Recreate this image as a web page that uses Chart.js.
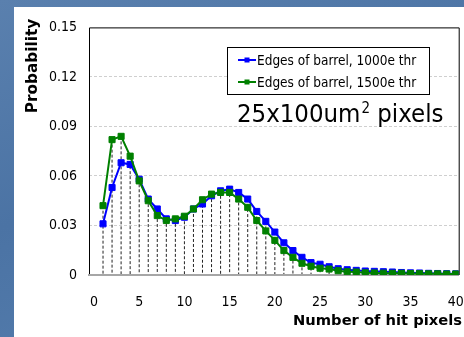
<!DOCTYPE html>
<html>
<head>
<meta charset="utf-8">
<script src="https://cdn.jsdelivr.net/npm/chart.js@4/dist/chart.umd.min.js"></script>
<style>
    html, body {
        margin: 0;
        padding: 0;
        width: 464px;
        height: 337px;
        overflow: hidden;
        background: linear-gradient(160deg, #5a80ae 0%, #4b73a4 45%, #5780b0 100%);
    }
    .panel {
        position: absolute;
        left: 14px;
        top: 7px;
        width: 450px;
        height: 330px;
        background: #fff;
    }
</style>
</head>
<body>
<div class="panel"><canvas id="histo" width="450" height="330"></canvas></div>
<script>
const HIT_PIXELS = [1, 2, 3, 4, 5, 6, 7, 8, 9, 10, 11, 12, 13, 14, 15, 16, 17, 18, 19, 20,
    21, 22, 23, 24, 25, 26, 27, 28, 29, 30, 31, 32, 33, 34, 35, 36, 37, 38, 39, 40];
const THR_1000 = [0.031, 0.053, 0.068, 0.067, 0.058, 0.046, 0.040, 0.034, 0.033, 0.035,
    0.040, 0.043, 0.048, 0.051, 0.052, 0.050, 0.046, 0.0385, 0.0325, 0.026,
    0.0195, 0.0148, 0.0107, 0.0075, 0.0065, 0.005, 0.0038, 0.0032, 0.0028, 0.0024,
    0.0022, 0.002, 0.0018, 0.0015, 0.0013, 0.0012, 0.001, 0.0009, 0.0008, 0.0007];
const THR_1500 = [0.042, 0.082, 0.084, 0.072, 0.057, 0.045, 0.036, 0.033, 0.034, 0.0356,
    0.040, 0.0456, 0.049, 0.050, 0.050, 0.046, 0.041, 0.033, 0.0267, 0.021,
    0.0148, 0.0107, 0.0071, 0.0053, 0.0041, 0.0036, 0.0026, 0.002, 0.0018, 0.0013,
    0.0012, 0.0011, 0.001, 0.001, 0.0009, 0.0008, 0.0007, 0.0007, 0.0006, 0.0006];
const SERIES_LABELS = ['Edges of barrel, 1000e thr', 'Edges of barrel, 1500e thr'];
const SERIES_COLORS = ['#0000ff', '#008000'];
const X_TICKS = [0, 5, 10, 15, 20, 25, 30, 35, 40];
const Y_TICKS = [0, 0.03, 0.06, 0.09, 0.12, 0.15];
const X_TITLE = 'Number of hit pixels';
const Y_TITLE = 'Probability';
const NOTE = ['25x100um', '2', ' pixels'];

const TICK_FONT = {family: "'DejaVu Sans Condensed', 'DejaVu Sans', sans-serif", size: 14};
const LABEL_FONT = "13.5px 'DejaVu Sans Condensed', 'DejaVu Sans', sans-serif";

const toPoints = values => HIT_PIXELS.map((x, i) => ({x, y: values[i]}));

const makeDataset = (idx, values, order) => ({
    label: SERIES_LABELS[idx],
    data: toPoints(values),
    borderColor: SERIES_COLORS[idx],
    backgroundColor: SERIES_COLORS[idx],
    borderWidth: 2,
    pointStyle: 'rect',
    pointRadius: 4.3,
    pointBorderWidth: 1,
    tension: 0,
    order
});

// dashed drop lines and the black frame
const dropLines = {
    id: 'dropLines',
    beforeDatasetsDraw(chart) {
        const {ctx, chartArea, scales: {x, y}} = chart;

        ctx.save();
        ctx.strokeStyle = '#222';
        ctx.lineWidth = 1;
        ctx.setLineDash([3, 2]);
        HIT_PIXELS.forEach((hx, i) => {
            const top = Math.max(THR_1000[i], THR_1500[i]);
            const px = x.getPixelForValue(hx);

            ctx.beginPath();
            ctx.moveTo(px, y.getPixelForValue(top));
            ctx.lineTo(px, y.getPixelForValue(0) - 1);
            ctx.stroke();
        });
        ctx.setLineDash([]);
        ctx.strokeStyle = '#000';
        ctx.beginPath();
        ctx.moveTo(chartArea.left + 0.5, chartArea.bottom - 1);
        ctx.lineTo(chartArea.left + 0.5, chartArea.top + 0.5);
        ctx.lineTo(chartArea.right + 0.5, chartArea.top + 0.5);
        ctx.lineTo(chartArea.right + 0.5, chartArea.bottom);
        ctx.stroke();
        ctx.restore();
    }
};

// legend box, note and axis titles
const extras = {
    id: 'extras',
    afterDraw(chart) {
        const {ctx} = chart;

        ctx.save();
        ctx.fillStyle = '#fff';
        ctx.fillRect(213.5, 40.5, 202, 47);
        ctx.strokeStyle = '#000';
        ctx.lineWidth = 1;
        ctx.strokeRect(213.5, 40.5, 202, 47);

        ctx.font = LABEL_FONT;
        ctx.textBaseline = 'alphabetic';
        SERIES_LABELS.forEach((label, i) => {
            const ly = 53 + i * 22;

            ctx.strokeStyle = SERIES_COLORS[i];
            ctx.fillStyle = SERIES_COLORS[i];
            ctx.lineWidth = 2;
            ctx.beginPath();
            ctx.moveTo(224, ly);
            ctx.lineTo(242, ly);
            ctx.stroke();
            ctx.fillRect(230.5, ly - 2.5, 5, 5);
            ctx.fillStyle = '#000';
            ctx.fillText(label, 243, ly + 5);
        });

        ctx.fillStyle = '#000';
        ctx.font = "25.5px 'DejaVu Sans Condensed', 'DejaVu Sans', sans-serif";
        let nx = 223;
        ctx.fillText(NOTE[0], nx, 115);
        nx += ctx.measureText(NOTE[0]).width + 1;
        ctx.font = "15px 'DejaVu Sans Condensed', 'DejaVu Sans', sans-serif";
        ctx.fillText(NOTE[1], nx, 106);
        nx += ctx.measureText(NOTE[1]).width;
        ctx.font = "25.5px 'DejaVu Sans Condensed', 'DejaVu Sans', sans-serif";
        ctx.fillText(NOTE[2], nx, 115);

        ctx.font = "bold 14.7px 'DejaVu Sans', sans-serif";
        ctx.textAlign = 'center';
        ctx.textBaseline = 'middle';
        ctx.fillText(X_TITLE, 363.5, 314);
        ctx.translate(19, 59);
        ctx.rotate(-Math.PI / 2);
        ctx.font = "bold 15.3px 'DejaVu Sans', sans-serif";
        ctx.fillText(Y_TITLE, 0, 0);
        ctx.restore();
    }
};

new Chart(document.getElementById('histo'), {
    type: 'line',
    data: {
        datasets: [makeDataset(0, THR_1000, 1), makeDataset(1, THR_1500, 0)]
    },
    options: {
        responsive: false,
        animation: false,
        layout: {padding: {left: 0, top: 15, right: 4, bottom: 0}},
        plugins: {legend: {display: false}, tooltip: {enabled: false}},
        scales: {
            x: {
                type: 'linear',
                min: -0.55,
                max: 40.33,
                afterBuildTicks: scale => {
                    scale.ticks = X_TICKS.map(value => ({value}));
                },
                afterFit: scale => {
                    scale.height = 62;
                    scale.paddingLeft = 0;
                    scale.paddingRight = 0;
                },
                grid: {display: false},
                border: {display: true, color: '#a6a6a6', width: 2},
                ticks: {font: TICK_FONT, color: '#000', padding: 11, maxRotation: 0}
            },
            y: {
                min: 0,
                max: 0.15,
                afterBuildTicks: scale => {
                    scale.ticks = Y_TICKS.map(value => ({value}));
                },
                afterFit: scale => {
                    scale.width = 75;
                },
                grid: {
                    drawTicks: false,
                    color: c => (c.tick && c.tick.value > 0 && c.tick.value < 0.15 ? '#cfcfcf' : 'rgba(0,0,0,0)')
                },
                border: {display: false, dash: [3, 2]},
                ticks: {
                    font: TICK_FONT,
                    color: '#000',
                    padding: 12,
                    callback: v => (v === 0 ? '0' : v.toFixed(2))
                }
            }
        }
    },
    plugins: [dropLines, extras]
});
</script>
</body>
</html>
